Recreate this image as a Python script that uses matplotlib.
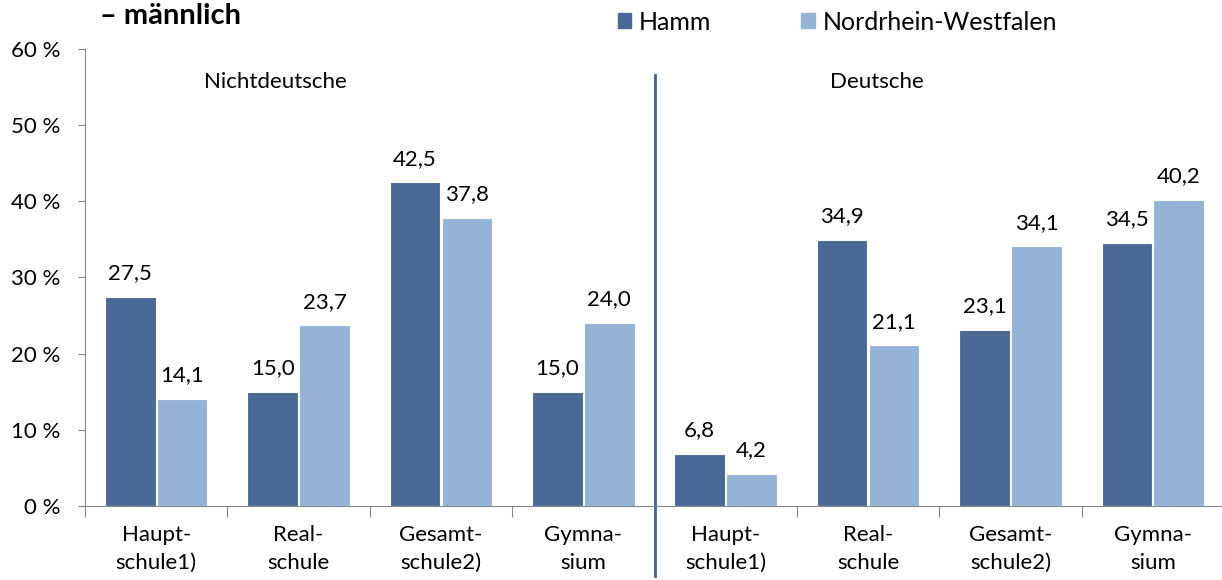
import numpy as np
import matplotlib
matplotlib.use("Agg")
import matplotlib.pyplot as plt
from matplotlib.patches import Patch

plt.rcParams['font.family'] = ['Lato', 'DejaVu Sans']

# data
schools = ["Haupt-\nschule1)", "Real-\nschule", "Gesamt-\nschule2)", "Gymna-\nsium"]
groups = ["Nichtdeutsche", "Deutsche"]
hamm = [27.5, 15.0, 42.5, 15.0, 6.8, 34.9, 23.1, 34.5]
nrw = [14.1, 23.7, 37.8, 24.0, 4.2, 21.1, 34.1, 40.2]
yticks = [0, 10, 20, 30, 40, 50, 60]

dark = '#4A6996'
light = '#95B3D7'
grey = '#868686'
fs = 16

labels = schools * len(groups)
x = np.arange(len(labels))
w = 0.355

fig = plt.figure(figsize=(12.22, 5.8), dpi=100)
ax = fig.add_axes([0.0696, 0.1276, 0.932, 0.788])

b1 = ax.bar(x - w/2 - 0.005, hamm, w, color=dark, edgecolor='white', linewidth=0.8)
b2 = ax.bar(x + w/2 + 0.005, nrw, w, color=light, edgecolor='white', linewidth=0.8)

for bars, vals in ((b1, hamm), (b2, nrw)):
    for b, v in zip(bars, vals):
        ax.annotate(("%.1f" % v).replace('.', ','),
                    (b.get_x() + b.get_width()/2, v),
                    xytext=(0, 17), textcoords='offset points',
                    ha='center', va='center', fontsize=fs)

ax.set_xlim(-0.5, len(labels) - 0.5)
ax.set_ylim(0, 60)
ax.set_yticks(yticks)
ax.set_yticklabels(["%d %%" % t for t in yticks], fontsize=fs)

# boundaries ticks on x axis, labels at centers
ax.set_xticks(np.arange(len(labels)) - 0.5)
ax.set_xticklabels([])
ax.set_xticks(x, minor=True)
ax.set_xticklabels(labels, minor=True, fontsize=fs, linespacing=1.45)
ax.tick_params(axis='x', which='major', length=8, color=grey, direction='out')
ax.tick_params(axis='x', which='minor', length=0, pad=14)
ax.tick_params(axis='y', length=5, color=grey, pad=13)

for s in ['top', 'right']:
    ax.spines[s].set_visible(False)
for s in ['left', 'bottom']:
    ax.spines[s].set_color(grey)

# separator between groups
sep = len(schools) - 0.5
ax.plot([sep, sep], [56.6, -9.2], color='#3E6295', lw=2, clip_on=False)

# group headings
ax.text(sep - 2 - 0.66, 55.6, groups[0], ha='center', va='center', fontsize=fs)
ax.text(sep + 2 - 0.44, 55.6, groups[1], ha='center', va='center', fontsize=fs)

fig.text(0.082, 0.972, "– männlich", fontsize=21, fontweight='bold', va='center', ha='left')

handles = [Patch(color=dark, label='Hamm'), Patch(color=light, label='Nordrhein-Westfalen')]
fig.legend(handles=handles, loc='center left', bbox_to_anchor=(0.487, 0.962), ncol=2,
           frameon=False, fontsize=18, handlelength=0.55, handleheight=0.55,
           handletextpad=0.3, columnspacing=3.6)

fig.savefig('out.png', dpi=100)
